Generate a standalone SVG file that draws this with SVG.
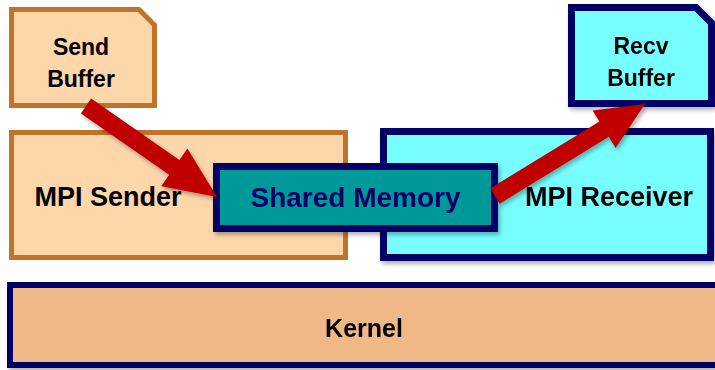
<svg xmlns="http://www.w3.org/2000/svg" width="715" height="370" viewBox="0 0 715 370">
<style>
.t{font-family:"Liberation Sans",Arial,sans-serif;font-weight:bold;text-anchor:middle;fill:#000}
.peach{fill:#FDD6AA;stroke:#C0732A;stroke-width:5}
.cyan{fill:#77FFFF;stroke:#000066;stroke-width:7}
.arrow{fill:#C00000;stroke:none}
</style>
<defs>
<filter id="sh" x="-10%" y="-10%" width="130%" height="140%">
<feDropShadow dx="2" dy="3" stdDeviation="2" flood-color="#000" flood-opacity="0.3"/>
</filter>
</defs>
<g id="kernel" filter="url(#sh)">
<rect x="10" y="285" width="710" height="80" fill="#F0B884" stroke="#000066" stroke-width="6"/>
<text class="t" x="364" y="337" font-size="25">Kernel</text>
</g>
<g id="mpi-sender">
<rect class="peach" x="11.5" y="132.5" width="334" height="125"/>
<text class="t" x="108" y="206" font-size="27">MPI Sender</text>
</g>
<g id="mpi-receiver" filter="url(#sh)">
<rect class="cyan" x="383.5" y="131.5" width="327" height="126"/>
<text class="t" x="609" y="206" font-size="27">MPI Receiver</text>
</g>
<g id="shared-memory" filter="url(#sh)">
<rect x="216.5" y="166.5" width="278" height="62" fill="#009999" stroke="#000066" stroke-width="7"/>
<text class="t" x="355.5" y="207" font-size="28" style="fill:#000066">Shared Memory</text>
</g>
<g id="send-buffer">
<path class="peach" d="M11.5 9.5 H139 L154.5 25 V105.5 H11.5 Z"/>
<text class="t" x="81" y="55" font-size="23">Send</text>
<text class="t" x="81" y="87" font-size="23">Buffer</text>
</g>
<g id="recv-buffer" filter="url(#sh)">
<path class="cyan" d="M571.5 7.5 H696 L711.5 23 V103.5 H571.5 Z"/>
<text class="t" x="641" y="54" font-size="23">Recv</text>
<text class="t" x="641" y="86" font-size="23">Buffer</text>
</g>
<g id="connectors" filter="url(#sh)">
<polygon class="arrow" points="91.1,98.6 179.4,159.9 187.4,148.4 217,197 161.2,186.2 169.2,174.7 80.9,113.4"/>
<polygon class="arrow" points="490.3,188.3 599.4,121.4 592.6,110.4 645,104 615.6,147.9 608.8,136.8 499.7,203.7"/>
</g>
</svg>
